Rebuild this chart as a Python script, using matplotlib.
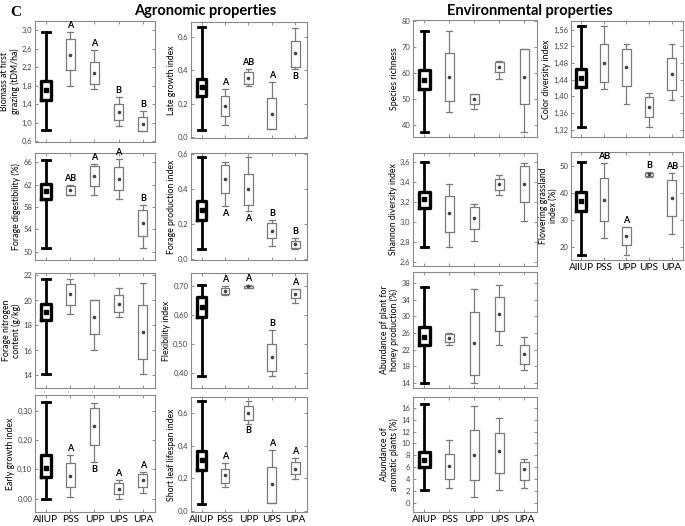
import matplotlib
matplotlib.use("Agg")
import matplotlib.pyplot as plt
from matplotlib.ticker import FuncFormatter

plt.rcParams["font.family"] = ["Lato", "DejaVu Sans"]

W, H = 685, 526
fig = plt.figure(figsize=(6.85, 5.26), dpi=100)

groups = ["AllUP", "PSS", "UPP", "UPS", "UPA"]

# each row: [whisker low, Q1, centre point, Q3, whisker high]
biomass = [[0.83, 1.49, 1.70, 1.91, 2.96], [1.80, 2.13, 2.47, 2.80, 2.96],
           [1.72, 1.83, 2.08, 2.31, 2.57], [0.93, 1.05, 1.23, 1.41, 1.55],
           [0.82, 0.82, 0.98, 1.12, 1.25]]
biomass_letters = ["", "A", "A", "B", "B"]
biomass_side = ["", "a", "a", "a", "a"]

late_growth = [[0.044, 0.244, 0.298, 0.350, 0.658], [0.074, 0.124, 0.188, 0.248, 0.288],
               [0.308, 0.320, 0.352, 0.388, 0.408], [0.048, 0.048, 0.140, 0.234, 0.328],
               [0.410, 0.418, 0.504, 0.578, 0.654]]
late_growth_letters = ["", "A", "AB", "A", "B"]
late_growth_side = ["", "a", "a", "a", "b"]

digestibility = [[50.7, 59.4, 60.8, 62.2, 66.5], [60.1, 60.2, 61.0, 61.7, 61.9],
                 [60.2, 61.8, 63.5, 65.3, 65.8], [59.4, 61.1, 63.1, 65.2, 66.6],
                 [50.6, 52.8, 55.2, 57.4, 58.3]]
digestibility_letters = ["", "AB", "A", "A", "B"]
digestibility_side = ["", "a", "a", "a", "a"]

production = [[0.057, 0.222, 0.278, 0.333, 0.580], [0.302, 0.380, 0.459, 0.537, 0.552],
              [0.274, 0.311, 0.398, 0.487, 0.580], [0.078, 0.120, 0.163, 0.204, 0.224],
              [0.060, 0.065, 0.085, 0.105, 0.120]]
production_letters = ["", "A", "A", "B", "B"]
production_side = ["", "b", "b", "a", "a"]

nitrogen = [[14.1, 18.4, 19.08, 19.75, 21.73], [18.9, 19.6, 20.5, 21.3, 21.7],
            [16.05, 17.3, 18.65, 20.0, 20.07], [18.7, 19.05, 19.75, 20.45, 21.0],
            [14.1, 15.35, 17.5, 19.6, 21.4]]

flexibility = [[0.387, 0.593, 0.625, 0.661, 0.703], [0.668, 0.671, 0.683, 0.692, 0.698],
               [0.692, 0.693, 0.698, 0.700, 0.702], [0.387, 0.407, 0.454, 0.500, 0.546],
               [0.640, 0.656, 0.673, 0.688, 0.690]]
flexibility_letters = ["", "A", "A", "B", "A"]
flexibility_side = ["", "a", "a", "a", "a"]

early_growth = [[0.0, 0.075, 0.105, 0.150, 0.328], [0.007, 0.039, 0.079, 0.122, 0.148],
                [0.124, 0.184, 0.248, 0.310, 0.325], [0.0, 0.017, 0.034, 0.052, 0.063],
                [0.020, 0.039, 0.063, 0.085, 0.092]]
early_growth_letters = ["", "A", "B", "A", "A"]
early_growth_side = ["", "a", "b", "a", "a"]

leaf_lifespan = [[0.045, 0.250, 0.311, 0.370, 0.675], [0.146, 0.173, 0.218, 0.258, 0.295],
                 [0.535, 0.555, 0.600, 0.645, 0.675], [0.051, 0.051, 0.163, 0.268, 0.372],
                 [0.197, 0.228, 0.260, 0.300, 0.325]]
leaf_lifespan_letters = ["", "A", "B", "A", "A"]
leaf_lifespan_side = ["", "a", "b", "a", "a"]

richness = [[37.4, 53.8, 57.6, 61.1, 76.2], [45.2, 49.3, 58.5, 67.9, 76.2],
            [46.1, 48.3, 50.3, 52.1, 52.1], [58.0, 60.4, 62.5, 64.4, 64.9],
            [37.4, 48.1, 58.5, 69.5, 69.5]]

color_div = [[1.326, 1.422, 1.445, 1.465, 1.570], [1.418, 1.434, 1.480, 1.526, 1.568],
             [1.382, 1.424, 1.470, 1.514, 1.526], [1.326, 1.349, 1.374, 1.398, 1.408],
             [1.390, 1.414, 1.454, 1.492, 1.526]]

shannon = [[2.75, 3.136, 3.226, 3.30, 3.60], [2.75, 2.898, 3.087, 3.262, 3.378],
           [2.812, 2.928, 3.037, 3.153, 3.176], [3.269, 3.325, 3.385, 3.434, 3.474],
           [3.01, 3.203, 3.378, 3.557, 3.59]]

flowering = [[16.9, 33.4, 37.0, 40.5, 51.6], [23.1, 29.6, 37.4, 45.7, 51.2],
             [16.9, 20.6, 24.0, 27.2, 27.4], [45.8, 46.3, 47.0, 47.6, 47.9],
             [24.6, 31.4, 38.0, 45.0, 47.3]]
flowering_letters = ["", "AB", "A", "B", "AB"]
flowering_side = ["", "a", "a", "a", "a"]

honey = [[14.0, 23.0, 25.0, 27.5, 37.0], [23.0, 23.8, 24.8, 25.8, 26.0],
         [14.0, 16.0, 23.5, 31.0, 36.5], [23.0, 26.5, 30.5, 34.5, 37.5],
         [17.0, 18.5, 21.0, 23.0, 25.0]]

aromatic = [[2.2, 6.1, 7.2, 8.6, 16.7], [2.5, 4.0, 6.3, 8.3, 10.5],
            [1.0, 3.9, 8.0, 12.2, 16.3], [2.2, 5.1, 8.8, 11.8, 14.3],
            [2.5, 3.9, 5.7, 6.9, 7.4]]

empty = ["", "", "", "", ""]

GRAY = "#7a7a7a"


def add_ax(x0, y0, x1, y1):
    return fig.add_axes([x0 / W, 1 - y1 / H, (x1 - x0) / W, (y1 - y0) / H])


def comma(dec):
    return FuncFormatter(lambda v, p: f"{v:.{dec}f}".replace(".", ","))


def panel(box, data, ylim, ticks, dec, ylabel, letters=empty, side=empty, xlabels=False):
    ax = add_ax(*box)
    stats = []
    for g, (lo, q1, mid, q3, hi) in zip(groups, data):
        stats.append(dict(label=g, whislo=lo, q1=q1, med=mid, mean=mid, q3=q3,
                          whishi=hi, fliers=[]))
    ax.bxp(stats[:1], positions=[1], widths=0.42, capwidths=0.3, showmeans=True,
           boxprops=dict(color="black", lw=2.4),
           whiskerprops=dict(color="black", lw=2.0),
           capprops=dict(color="black", lw=2.0),
           medianprops=dict(visible=False),
           meanprops=dict(marker="s", markerfacecolor="black",
                          markeredgecolor="black", markersize=3.2))
    ax.bxp(stats[1:], positions=[2, 3, 4, 5], widths=0.38, capwidths=0.24,
           showmeans=True,
           boxprops=dict(color=GRAY, lw=0.9),
           whiskerprops=dict(color=GRAY, lw=0.9),
           capprops=dict(color=GRAY, lw=0.9),
           medianprops=dict(visible=False),
           meanprops=dict(marker="o", markerfacecolor="#444",
                          markeredgecolor="#444", markersize=1.6))
    for i, (lab, sd) in enumerate(zip(letters, side)):
        if not lab:
            continue
        lo, q1, mid, q3, hi = data[i]
        if sd == "a":
            ax.annotate(lab, (i + 1, hi), xytext=(0, 1.5), textcoords="offset points",
                        ha="center", va="bottom", fontsize=6.5, fontweight="bold")
        else:
            ax.annotate(lab, (i + 1, lo), xytext=(0, -2), textcoords="offset points",
                        ha="center", va="top", fontsize=6.5, fontweight="bold")
    ax.set_xlim(0.55, 5.5)
    ax.set_ylim(*ylim)
    ax.set_yticks(ticks)
    ax.yaxis.set_major_formatter(comma(dec))
    ax.set_xticks([1, 2, 3, 4, 5])
    if xlabels:
        ax.set_xticklabels(groups, fontsize=7.3, color="black")
    else:
        ax.set_xticklabels([])
    ax.tick_params(axis="both", direction="in", length=2.5, width=0.6, color=GRAY,
                   top=True, right=True, pad=2)
    ax.tick_params(axis="y", labelsize=5.5, labelcolor="#444")
    ax.tick_params(axis="x", pad=2.5)
    for s in ax.spines.values():
        s.set_color("#8a8a8a")
        s.set_linewidth(0.8)
    ax.set_ylabel(ylabel, fontsize=6.3, labelpad=1.5, linespacing=1.1)
    return ax


# Agronomic properties
panel((35, 21, 155, 142), biomass, (0.58, 3.2), [0.6, 1.0, 1.4, 1.8, 2.2, 2.6, 3.0], 1,
      "Biomass at first\ngrazing (tDM/ha)", biomass_letters, biomass_side)
panel((191, 22, 307, 138), late_growth, (-0.005, 0.69), [0.0, 0.2, 0.4, 0.6], 1,
      "Late growth index", late_growth_letters, late_growth_side)
panel((35, 153, 155, 260), digestibility, (48.5, 67.7), [50, 54, 58, 62, 66], 0,
      "Forage digestibility (%)", digestibility_letters, digestibility_side)
panel((191, 153, 307, 260), production, (-0.004, 0.605), [0.0, 0.2, 0.4, 0.6], 1,
      "Forage production index", production_letters, production_side)
panel((35, 273, 155, 388), nitrogen, (13.0, 22.2), [14, 16, 18, 20, 22], 0,
      "Forage nitrogen\ncontent (g/kg)")
panel((191, 273, 307, 388), flexibility, (0.347, 0.744), [0.4, 0.5, 0.6, 0.7], 2,
      "Flexibility index", flexibility_letters, flexibility_side)
panel((35, 395, 155, 512), early_growth, (-0.045, 0.353), [0.0, 0.1, 0.2, 0.3], 2,
      "Early growth index", early_growth_letters, early_growth_side, xlabels=True)
panel((191, 397, 307, 512), leaf_lifespan, (-0.006, 0.698), [0.0, 0.2, 0.4, 0.6], 1,
      "Short leaf lifespan index", leaf_lifespan_letters, leaf_lifespan_side, xlabels=True)

# Environmental properties
panel((413, 20, 537, 137), richness, (35.5, 80.5), [40, 50, 60, 70, 80], 0,
      "Species richness")
panel((571, 21, 683, 137), color_div, (1.302, 1.581),
      [1.32, 1.36, 1.40, 1.44, 1.48, 1.52, 1.56], 2, "Color diversity index")
panel((413, 153, 537, 266), shannon, (2.56, 3.69), [2.6, 2.8, 3.0, 3.2, 3.4, 3.6], 1,
      "Shannon diversity index")
panel((571, 152, 683, 260), flowering, (15, 55.3), [20, 30, 40, 50], 0,
      "Flowering grassland\nindex (%)", flowering_letters, flowering_side, xlabels=True)
panel((413, 272, 537, 388), honey, (12.8, 40.6), [14, 18, 22, 26, 30, 34, 38], 0,
      "Abundance pf plant for\nhoney production (%)")
panel((413, 397, 537, 512), aromatic, (-1.5, 17.8), [0, 2, 4, 6, 8, 10, 12, 14, 16], 0,
      "Abundance of\naromatic plants (%)", xlabels=True)

fig.text(10 / W, 1 - 13 / H, "C", fontsize=11, fontweight="bold", ha="left", va="center",
         family=["Liberation Serif", "DejaVu Serif"])
fig.text(205 / W, 1 - 11 / H, "Agronomic properties", fontsize=10.5, fontweight="bold",
         ha="center", va="center")
fig.text(530 / W, 1 - 11 / H, "Environmental properties", fontsize=10.5, fontweight="bold",
         ha="center", va="center")

fig.savefig("out.png", dpi=100)
